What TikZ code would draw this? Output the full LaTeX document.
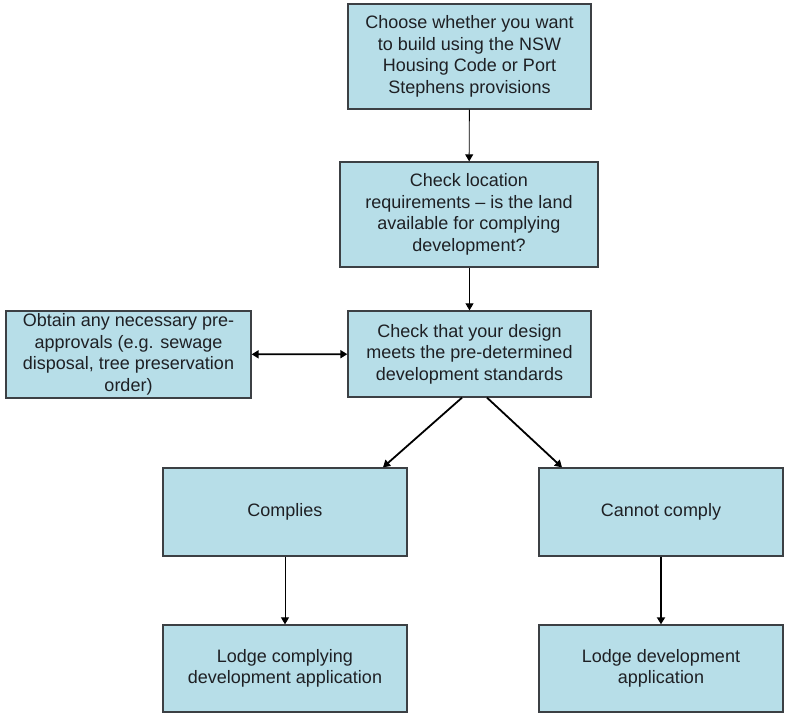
\documentclass[tikz,border=0pt]{standalone}
\usepackage{fontspec}
\setmainfont{Liberation Sans}
\usepackage{tikz}
\usetikzlibrary{arrows.meta, positioning, calc}
\definecolor{boxFill}{RGB}{183, 222, 232}
\definecolor{boxEdge}{RGB}{60, 64, 68}
\definecolor{textDark}{RGB}{30, 32, 36}

\begin{document}
\begin{tikzpicture}[
        x=1pt, y=-1pt,
        box/.style={rectangle, draw=boxEdge, line width=1.3pt, fill=boxFill, text=textDark, align=center, inner sep=2pt, font=\fontsize{18}{21.5}\selectfont},
        arrow/.style={-{Triangle[length=7pt, width=8pt]}, line width=0.9pt, black},
        heavy/.style={arrow, line width=1.8pt}
    ]
        \useasboundingbox (0,0) rectangle (785,716);

        % Main line down the middle
        \node[box, minimum width=243pt, minimum height=105pt] (choose) at (469.5, 56.5) {Choose whether you want\\to build using the NSW\\Housing Code or Port\\Stephens provisions};
        \node[box, minimum width=258pt, minimum height=105pt] (location) at (469, 214.5) {Check location\\requirements -- is the land\\available for complying\\development?};
        \node[box, minimum width=243pt, minimum height=86pt] (design) at (469.5, 354) {Check that your design\\meets the pre-determined\\development standards};
        \node[box, minimum width=245pt, minimum height=87pt] (preapp) at (128.5, 354.5) {Obtain any necessary pre-\\approvals (e.g. sewage\\disposal, tree preservation\\order)};

        \draw[arrow] (choose) -- (location);
        \draw[arrow] (location.south -| choose) -- (design.north -| choose);
        \draw[heavy, {Triangle[length=7pt, width=8pt]}-{Triangle[length=7pt, width=8pt]}] (preapp) -- (design);

        % Two outcomes
        \node[box, minimum width=244pt, minimum height=88pt] (complies) at (285, 512) {Complies};
        \node[box, minimum width=244pt, minimum height=88pt] (cannot) at (661, 512) {Cannot comply};
        \node[box, minimum width=244pt, minimum height=87pt] (lodgecd) at (285, 668.5) {Lodge complying\\development application};
        \node[box, minimum width=244pt, minimum height=87pt] (lodgeda) at (661, 668.5) {Lodge development\\application};

        \draw[heavy] ([xshift=-7.5pt]design.south) -- ([xshift=98pt]complies.north);
        \draw[heavy] ([xshift=17.5pt]design.south) -- ([xshift=-99pt]cannot.north);
        \draw[arrow] (complies) -- (lodgecd);
        \draw[heavy] (cannot) -- (lodgeda);
    \end{tikzpicture}
\end{document}
